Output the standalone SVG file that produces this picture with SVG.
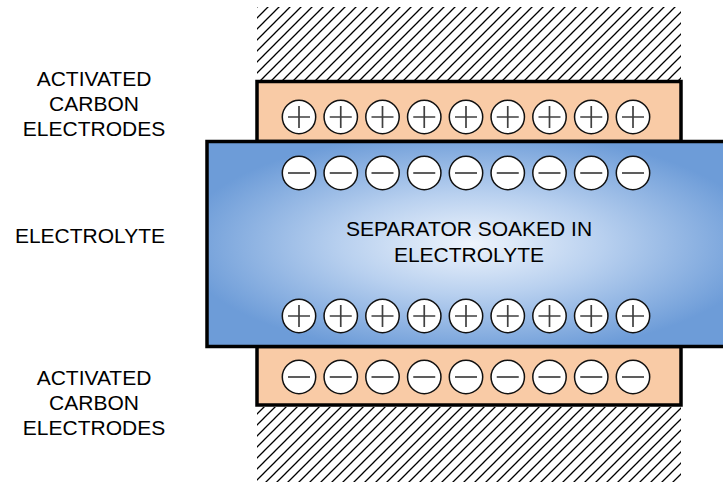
<svg xmlns="http://www.w3.org/2000/svg" width="723" height="487" viewBox="0 0 723 487">
<style>
.lbl{font-family:"Liberation Sans",Arial,sans-serif;font-size:21px;fill:#000;text-anchor:middle}
.elec{fill:#f9cba6;stroke:#000;stroke-width:3.5}
.ion{fill:#fff;stroke:#111;stroke-width:1.5}
.sign{stroke:#404040;stroke-width:1.7;fill:none}
</style>
<defs>
<pattern id="hatch" patternUnits="userSpaceOnUse" width="11" height="11">
<path d="M-1,1 L1,-1 M0,11 L11,0 M10,12 L12,10" stroke="#000" stroke-width="1.3"/>
</pattern>
<radialGradient id="blue" cx="0.5" cy="0.5" r="0.55">
<stop offset="0" stop-color="#eef4fc"/>
<stop offset="0.45" stop-color="#b8d0ef"/>
<stop offset="1" stop-color="#6d9cd8"/>
</radialGradient>
<g id="plus"><circle class="ion" r="16.7"/><path class="sign" d="M-11,0 H11 M0,-11 V11"/></g>
<g id="minus"><circle class="ion" r="16.7"/><path class="sign" d="M-11,0 H11"/></g>
</defs>

<g id="hatch-top"><rect x="257" y="7" width="424" height="73" fill="url(#hatch)"/></g>
<g id="hatch-bottom"><rect x="257" y="407" width="424" height="75" fill="url(#hatch)"/></g>

<g id="electrode-top"><rect class="elec" x="257" y="81.5" width="424" height="60"/></g>
<g id="electrode-bottom"><rect class="elec" x="257" y="346.5" width="424" height="58.5"/></g>

<g id="separator">
<rect x="207" y="141.5" width="530" height="205" fill="url(#blue)" stroke="#000" stroke-width="3.5"/>
<text class="lbl" x="469" y="235.5">SEPARATOR SOAKED IN</text>
<text class="lbl" x="469" y="261.5">ELECTROLYTE</text>
</g>

<g id="ions-top-plus">
<use href="#plus" x="299" y="117"/><use href="#plus" x="340.75" y="117"/><use href="#plus" x="382.5" y="117"/><use href="#plus" x="424.25" y="117"/><use href="#plus" x="466" y="117"/><use href="#plus" x="507.75" y="117"/><use href="#plus" x="549.5" y="117"/><use href="#plus" x="591.25" y="117"/><use href="#plus" x="633" y="117"/>
</g>
<g id="ions-top-minus">
<use href="#minus" x="299" y="173"/><use href="#minus" x="340.75" y="173"/><use href="#minus" x="382.5" y="173"/><use href="#minus" x="424.25" y="173"/><use href="#minus" x="466" y="173"/><use href="#minus" x="507.75" y="173"/><use href="#minus" x="549.5" y="173"/><use href="#minus" x="591.25" y="173"/><use href="#minus" x="633" y="173"/>
</g>
<g id="ions-bottom-plus">
<use href="#plus" x="299" y="316"/><use href="#plus" x="340.75" y="316"/><use href="#plus" x="382.5" y="316"/><use href="#plus" x="424.25" y="316"/><use href="#plus" x="466" y="316"/><use href="#plus" x="507.75" y="316"/><use href="#plus" x="549.5" y="316"/><use href="#plus" x="591.25" y="316"/><use href="#plus" x="633" y="316"/>
</g>
<g id="ions-bottom-minus">
<use href="#minus" x="299" y="377"/><use href="#minus" x="340.75" y="377"/><use href="#minus" x="382.5" y="377"/><use href="#minus" x="424.25" y="377"/><use href="#minus" x="466" y="377"/><use href="#minus" x="507.75" y="377"/><use href="#minus" x="549.5" y="377"/><use href="#minus" x="591.25" y="377"/><use href="#minus" x="633" y="377"/>
</g>

<g id="label-top">
<text class="lbl" x="94" y="86">ACTIVATED</text>
<text class="lbl" x="94" y="111">CARBON</text>
<text class="lbl" x="94" y="136">ELECTRODES</text>
</g>
<g id="label-electrolyte">
<text class="lbl" x="90" y="243">ELECTROLYTE</text>
</g>
<g id="label-bottom">
<text class="lbl" x="94" y="385">ACTIVATED</text>
<text class="lbl" x="94" y="410">CARBON</text>
<text class="lbl" x="94" y="435">ELECTRODES</text>
</g>
</svg>
